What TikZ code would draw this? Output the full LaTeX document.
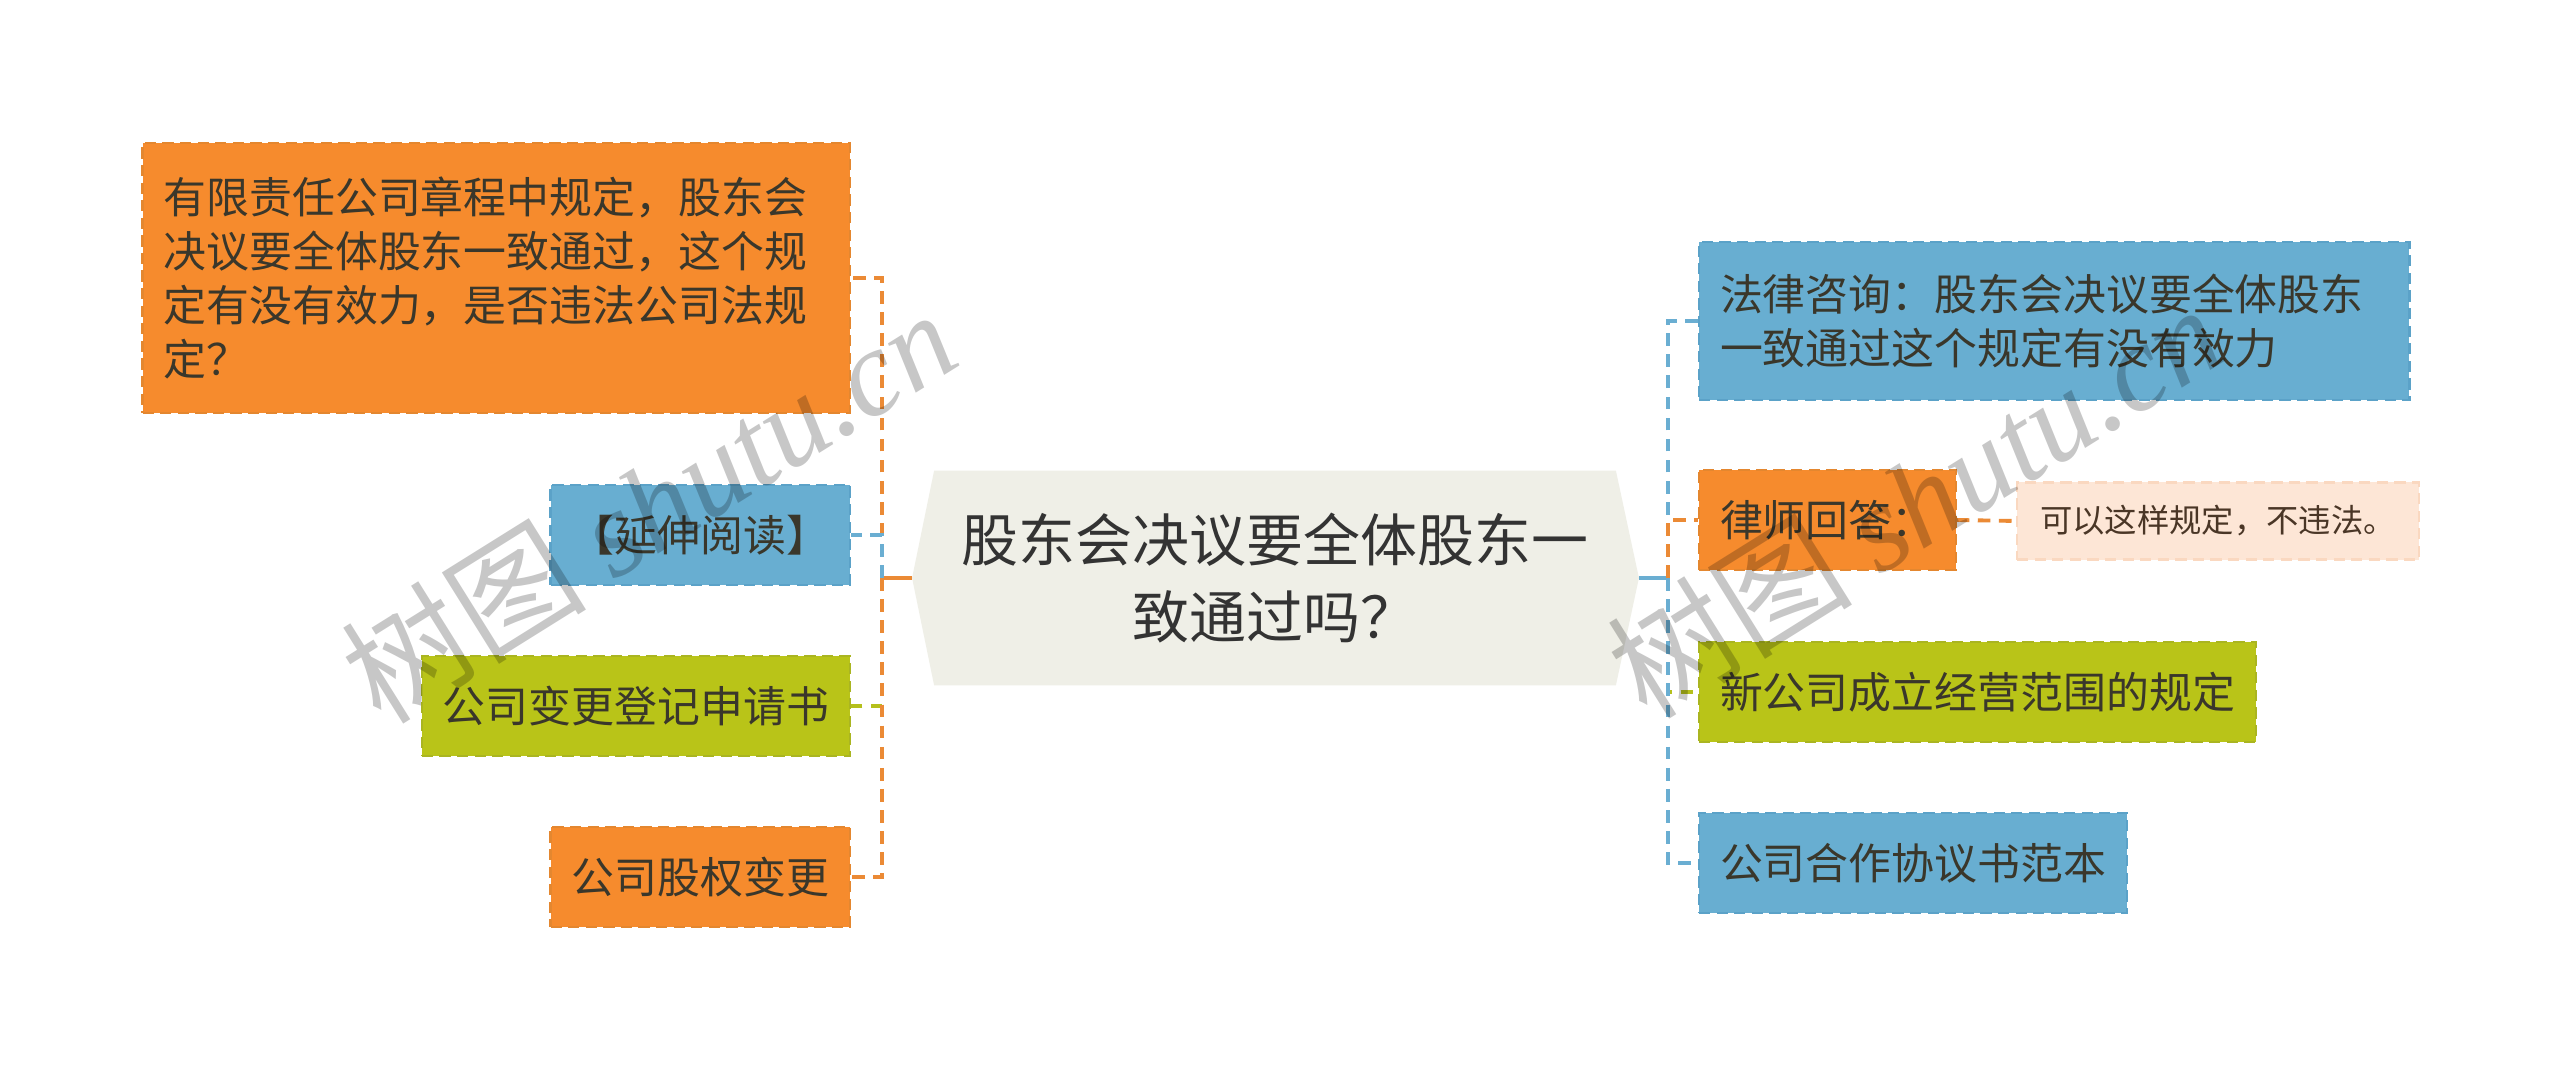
\documentclass[tikz,border=0pt]{standalone}
\usepackage{fontspec}
\newfontfamily\cjk{Noto Sans CJK SC}
\newfontfamily\wmserif{Liberation Serif}
\usetikzlibrary{backgrounds}
\definecolor{orgF}{HTML}{F68B2D}
\definecolor{orgD}{HTML}{E4872F}
\definecolor{orgC}{HTML}{EB8A35}
\definecolor{bluF}{HTML}{68AED1}
\definecolor{bluD}{HTML}{5BA2C8}
\definecolor{bluC}{HTML}{6AAED2}
\definecolor{grnF}{HTML}{B9C418}
\definecolor{grnD}{HTML}{AAB521}
\definecolor{grnC}{HTML}{B5C01C}
\definecolor{cenF}{HTML}{EFEFE7}
\definecolor{pchF}{HTML}{FDE6D6}
\definecolor{pchD}{HTML}{FAD8C0}
\definecolor{txt}{HTML}{3A372B}
\definecolor{ctxt}{HTML}{333333}
\definecolor{atxt}{HTML}{4A3626}
\begin{document}
\begin{tikzpicture}[x=0.01cm,y=-0.01cm,
  box/.style={rectangle, line width=0.6pt, dash pattern=on 3.2pt off 1.8pt,
    inner xsep=0.21cm, inner ysep=0pt, minimum height=1.0cm, text=txt,
    font=\cjk\fontsize{12.2pt}{15.4pt}\selectfont},
  obox/.style={box, fill=orgF, draw=orgD},
  bbox/.style={box, fill=bluF, draw=bluD},
  gbox/.style={box, fill=grnF, draw=grnD},
  abox/.style={box, fill=pchF, draw=pchD, minimum height=0.77cm, inner xsep=0.23cm,
    text=atxt, font=\cjk\fontsize{9.2pt}{11pt}\selectfont},
  link/.style={line width=1.1pt, dash pattern=on 3.6pt off 2.4pt},
  trunk/.style={line width=1.1pt},
  cbox/.style={rectangle, minimum width=6.80cm, minimum height=2.13cm, inner sep=0pt,
    align=center, text=ctxt, font=\cjk\fontsize{16.2pt}{21.9pt}\selectfont},
  wm/.style={text=black, opacity=0.22, inner sep=0pt,
    font=\cjk\fontsize{35pt}{38pt}\selectfont}
]
\useasboundingbox (0,0) rectangle (2560,1071);

% centre
\node[cbox] (c) at (1275,578) {股东会决议要全体股东一\\致通过吗？};
\coordinate (cl) at ([xshift=-0.22cm]c.west);
\coordinate (cr) at ([xshift=0.23cm]c.east);
\begin{scope}[on background layer]
\fill[white] (0,0) rectangle (2560,1071);
\fill[cenF] (c.north west) -- (c.north east) -- (cr) -- (c.south east)
  -- (c.south west) -- (cl) -- cycle;
\end{scope}

\coordinate (jl) at (882,578);
\coordinate (jr) at (1668,578);

% left children
\node[obox, anchor=east, text width=6.65cm, minimum height=2.69cm, align=left] (q) at (851,278)
  {有限责任公司章程中规定，股东会\\决议要全体股东一致通过，这个规\\定有没有效力，是否违法公司法规\\定？};
\node[bbox, anchor=east] (yd) at (851,535) {【延伸阅读】};
\node[gbox, anchor=east] (bg) at (851,706) {公司变更登记申请书};
\node[obox, anchor=east] (gq) at (851,877) {公司股权变更};

% right children
\node[bbox, anchor=west, text width=6.68cm, minimum height=1.58cm, align=left] (fl) at (1698,321)
  {法律咨询：股东会决议要全体股东\\一致通过这个规定有没有效力};
\node[obox, anchor=west] (ls) at (1698,520) {律师回答：};
\node[abox, anchor=west] (an) at (2016,521) {可以这样规定，不违法。};
\node[gbox, anchor=west] (xg) at (1698,692) {新公司成立经营范围的规定};
\node[bbox, anchor=west] (hz) at (1698,863) {公司合作协议书范本};

% connectors left
\draw[trunk, orgC] (cl) -- (jl);
\draw[link, orgC] (jl) |- (q.east);
\draw[link, bluC] (jl) |- (yd.east);
\draw[link, grnC] (jl) |- (bg.east);
\draw[link, orgC] (jl) |- (gq.east);

% connectors right
\draw[trunk, bluC] (cr) -- (jr);
\draw[link, bluC] (jr) |- (fl.west);
\draw[link, orgC] (jr) |- (ls.west);
\draw[link, grnC] (jr) |- (xg.west);
\draw[link, bluC] (jr) |- (hz.west);
\draw[link, orgC] (ls.east) -- (an.west);

% watermarks
\node[wm, rotate=32] (wm1) at (648,505) {树图 {\wmserif\itshape shutu.cn}};
\node[wm, rotate=32] (wm2) at (1914,500) {树图 {\wmserif\itshape shutu.cn}};
\end{tikzpicture}
\end{document}
